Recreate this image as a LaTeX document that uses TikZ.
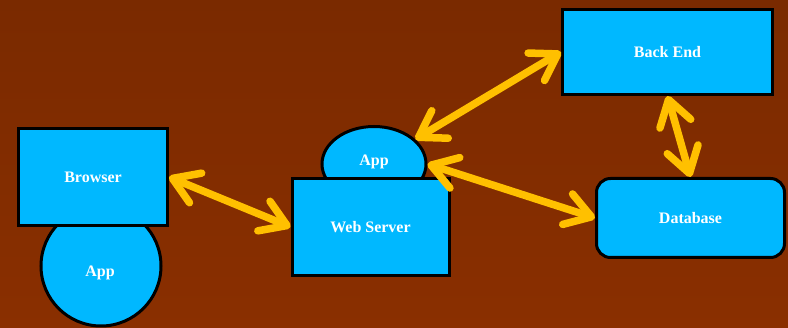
\documentclass[tikz,border=0pt]{standalone}
\usepackage{fontspec}
\setmainfont{Liberation Serif}
\usetikzlibrary{arrows.meta,shapes.geometric}
\definecolor{bgtop}{RGB}{122,42,0}
\definecolor{bgbot}{RGB}{138,47,0}
\definecolor{boxfill}{RGB}{0,184,255}
\definecolor{arrowc}{RGB}{255,192,0}
\tikzset{
  lbl/.style={text=white, font=\fontsize{16}{19}\selectfont\bfseries},
  box/.style={draw=black, line width=3pt, fill=boxfill, inner sep=0pt, lbl},
  dbl/.style={draw=arrowc, line width=7.5pt, line cap=round,
    {Straight Barb[round,length=25pt,width=32pt]}-{Straight Barb[round,length=25pt,width=32pt]}}
}
\begin{document}
\begin{tikzpicture}[x=1pt,y=-1pt]
\shade[top color=bgtop, bottom color=bgbot] (0,0) rectangle (788,328);
\useasboundingbox (0,0) rectangle (788,328);
% left app circle under browser
\node[box, circle, minimum size=120pt] (app1) at (101,266) {};
\node[lbl] (app1t) at (100,273) {App};
\node[box, rectangle, minimum width=149pt, minimum height=97pt] (browser) at (93,177) {Browser};
% web server app ellipse under web server
\node[box, ellipse, minimum width=104pt, minimum height=75pt] (app2) at (374,164) {};
\node[lbl] (app2t) at (374,162) {App};
\node[box, rectangle, minimum width=157pt, minimum height=97pt] (web) at (370.5,227) {Web Server};
\node[box, rectangle, minimum width=210pt, minimum height=85pt] (backend) at (667.5,52) {Back End};
\node[box, rectangle, rounded corners=14pt, minimum width=188pt, minimum height=79pt] (db) at (690.5,218) {Database};
% connectors
\draw[dbl] (browser.east) -- (web.west);
\draw[dbl] (app2) -- (backend.west);
\draw[dbl] (app2.east) -- (db.west);
\draw[dbl] (backend.south) -- (db.north);
\end{tikzpicture}
\end{document}
